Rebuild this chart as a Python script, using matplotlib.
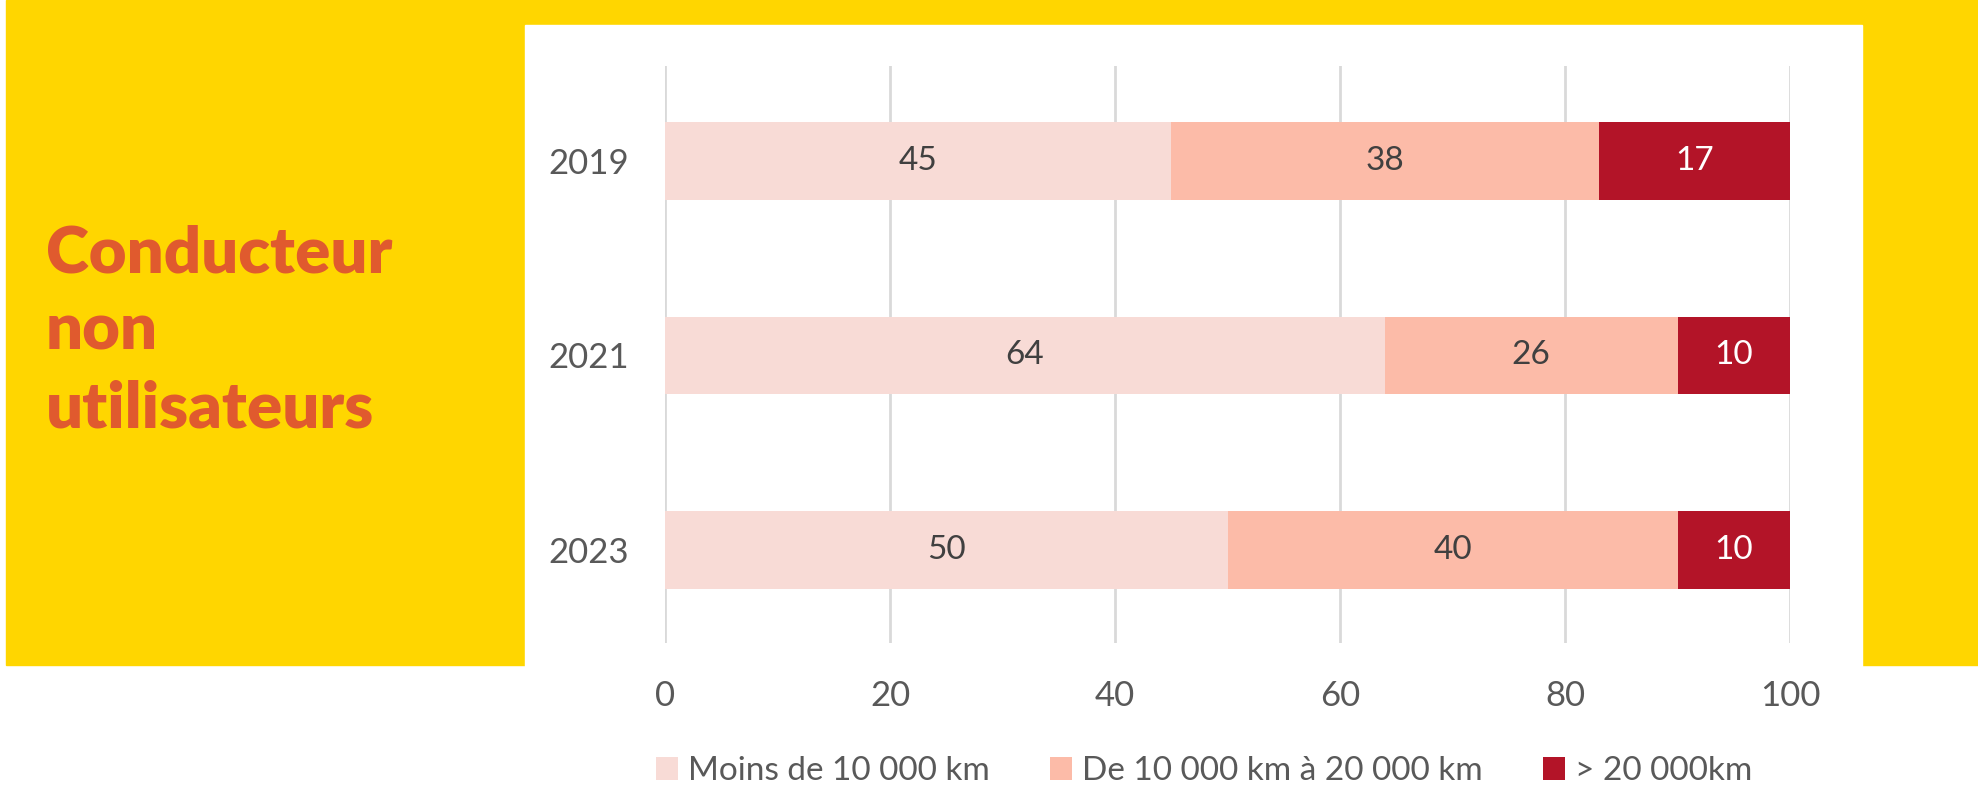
import matplotlib
matplotlib.use("Agg")
import matplotlib.pyplot as plt
from matplotlib.patches import Rectangle
import numpy as np

years = ["2019", "2021", "2023"]
series_names = ["Moins de 10 000 km", "De 10 000 km à 20 000 km", "> 20 000km"]
moins_10k = [45, 64, 50]
de_10k_20k = [38, 26, 40]
plus_20k = [17, 10, 10]
xticks = [0, 20, 40, 60, 80, 100]
title_lines = ["Conducteur", "non", "utilisateurs"]

colors = ["#F8DBD6", "#FCBBA8", "#B31428"]
label_colors = ["#404040", "#404040", "#FFFFFF"]
yellow = "#FFD600"

W, H = 1978, 795
fig = plt.figure(figsize=(W / 100, H / 100), dpi=100)
fig.patch.set_facecolor("white")

# Yellow background block and white panel
fig.patches.append(Rectangle((6 / W, 1 - 665 / H), 1 - 6 / W, 665 / H,
                             transform=fig.transFigure, color=yellow, zorder=0))
fig.patches.append(Rectangle((525 / W, 0), (1862 - 525) / W, 1 - 25 / H,
                             transform=fig.transFigure, color="white", zorder=1))

for line, base in zip(title_lines, [273, 350, 427]):
    fig.text(46 / W, 1 - base / H, line, fontsize=47, fontweight="heavy",
             family=["Lato", "DejaVu Sans"], color="#E05A2E", va="baseline",
             ha="left", zorder=3)

ax = fig.add_axes([665 / W, 152 / H, 1125 / W, 577 / H])
ax.set_facecolor("none")
ax.set_zorder(2)

y = np.arange(len(years))
data = [moins_10k, de_10k_20k, plus_20k]
left = np.zeros(len(years))
for vals, c, lc, name in zip(data, colors, label_colors, series_names):
    bars = ax.barh(y, vals, left=left, height=0.4, color=c, label=name, zorder=3)
    ax.bar_label(bars, labels=[str(v) for v in vals], label_type="center",
                 color=lc, fontsize=24, family="Lato")
    left += np.array(vals)

ax.set_xlim(0, 100)
ax.set_ylim(2.48, -0.49)
ax.set_yticks(y)
ax.set_yticklabels(years)
ax.set_xticks(xticks)
ax.set_xticklabels([str(t) for t in xticks])
ax.tick_params(axis="both", length=0, labelsize=25, labelcolor="#595959")
ax.tick_params(axis="x", pad=27)
ax.tick_params(axis="y", pad=26)
for lab in ax.get_xticklabels() + ax.get_yticklabels():
    lab.set_family("Lato")
ax.grid(axis="x", color="#D9D9D9", linewidth=2, zorder=0)
for s in ax.spines.values():
    s.set_visible(False)

leg = fig.legend(loc="center", bbox_to_anchor=(1204 / W, 1 - 771 / H), ncol=3,
                 frameon=False, handlelength=0.67, handleheight=0.67,
                 handletextpad=0.3, columnspacing=1.8,
                 prop={"family": "Lato", "size": 24})
for t in leg.get_texts():
    t.set_color("#595959")

fig.savefig("out.png", dpi=100, facecolor="white")
